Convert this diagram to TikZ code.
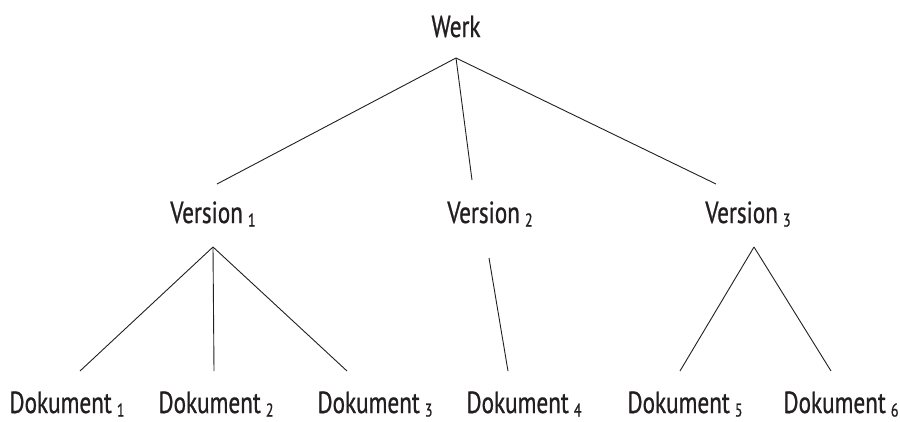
\documentclass[tikz,border=0pt]{standalone}
\usepackage{fontspec}
\setmainfont[FakeStretch=0.76,FakeBold=0.8]{PT Sans}
\definecolor{ink}{HTML}{231F20}
\newcommand{\subidx}[1]{\,\raisebox{-3.5pt}{\fontsize{18.5pt}{19pt}\selectfont #1}}
\begin{document}
\begin{tikzpicture}[x=1pt,y=-1pt,
  lbl/.style={anchor=base,inner sep=0pt,text=ink,font=\fontsize{30.5pt}{32pt}\selectfont},
  edge/.style={draw=ink,line width=0.9pt}]
\useasboundingbox (0,0) rectangle (900,421);
% labels
\node[lbl] (werk) at (456,37) {Werk};
\node[lbl] (v1) at (213,223) {Version\subidx{1}};
\node[lbl] (v2) at (490,223) {Version\subidx{2}};
\node[lbl] (v3) at (748,223) {Version\subidx{3}};
\node[lbl] (d1) at (67,413) {Dokument\subidx{1}};
\node[lbl] (d2) at (216,413) {Dokument\subidx{2}};
\node[lbl] (d3) at (375,413) {Dokument\subidx{3}};
\node[lbl] (d4) at (524,413) {Dokument\subidx{4}};
\node[lbl] (d5) at (685,413) {Dokument\subidx{5}};
\node[lbl] (d6) at (841,413) {Dokument\subidx{6}};
% connector ends
\coordinate (werkB) at (456,58);
\coordinate (v1T) at (217,184);
\coordinate (v2T) at (472,180);
\coordinate (v3T) at (716,184);
\coordinate (v1B) at (213,247);
\coordinate (v2B) at (489,258);
\coordinate (v3B) at (754,247);
\coordinate (d1T) at (80,371);
\coordinate (d2T) at (214,371);
\coordinate (d3T) at (347,371);
\coordinate (d4T) at (508,371);
\coordinate (d5T) at (680,371);
\coordinate (d6T) at (831,371);
% connectors
\draw[edge] (werkB) -- (v1T);
\draw[edge] (werkB) -- (v2T);
\draw[edge] (werkB) -- (v3T);
\draw[edge] (v1B) -- (d1T);
\draw[edge] (v1B) -- (d2T);
\draw[edge] (v1B) -- (d3T);
\draw[edge] (v2B) -- (d4T);
\draw[edge] (v3B) -- (d5T);
\draw[edge] (v3B) -- (d6T);
\end{tikzpicture}
\end{document}
